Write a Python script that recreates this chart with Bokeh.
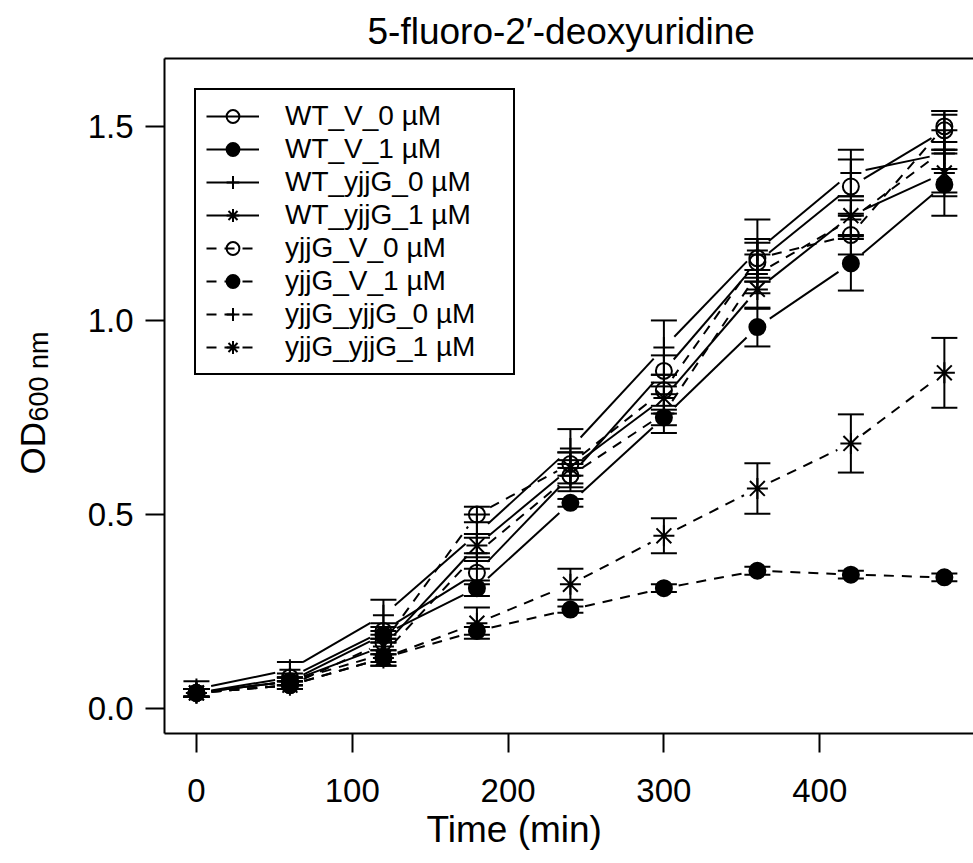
import math
from bokeh.plotting import figure
from bokeh.layouts import row
from bokeh.core.properties import value
from bokeh.models import (ColumnDataSource, Whisker, TeeHead, Legend, LegendItem,
                          FixedTicker, PrintfTickFormatter, LinearAxis, Range1d, Title)
from bokeh.embed import file_html
from bokeh.resources import INLINE

# ---------------- data ----------------
times = [0, 60, 120, 180, 240, 300, 360, 420, 480]

series_names = ["WT_V_0 µM", "WT_V_1 µM", "WT_yjjG_0 µM", "WT_yjjG_1 µM",
                "yjjG_V_0 µM", "yjjG_V_1 µM", "yjjG_yjjG_0 µM", "yjjG_yjjG_1 µM"]

wt_v_0 = [0.040, 0.080, 0.200, 0.350, 0.600, 0.870, 1.150, 1.345, 1.490]
wt_v_1 = [0.040, 0.070, 0.190, 0.310, 0.530, 0.750, 0.983, 1.147, 1.350]
wt_yjjg_0 = [0.050, 0.100, 0.240, 0.450, 0.670, 0.930, 1.180, 1.380, 1.430]
wt_yjjg_1 = [0.040, 0.070, 0.160, 0.420, 0.620, 0.800, 1.080, 1.270, 1.380]
yjjg_v_0 = [0.040, 0.060, 0.170, 0.500, 0.630, 0.820, 1.160, 1.220, 1.500]
yjjg_v_1 = [0.040, 0.060, 0.130, 0.200, 0.255, 0.310, 0.355, 0.345, 0.338]
yjjg_yjjg_0 = [0.040, 0.070, 0.140, 0.400, 0.600, 0.760, 1.120, 1.260, 1.440]
yjjg_yjjg_1 = [0.040, 0.060, 0.130, 0.220, 0.320, 0.445, 0.567, 0.683, 0.865]

wt_v_0_err = [0.010, 0.010, 0.020, 0.030, 0.030, 0.040, 0.050, 0.070, 0.050]
wt_v_1_err = [0.010, 0.010, 0.020, 0.020, 0.010, 0.020, 0.050, 0.070, 0.080]
wt_yjjg_0_err = [0.020, 0.020, 0.040, 0.050, 0.050, 0.070, 0.080, 0.060, 0.100]
wt_yjjg_1_err = [0.010, 0.010, 0.020, 0.030, 0.040, 0.040, 0.050, 0.050, 0.060]
yjjg_v_0_err = [0.010, 0.010, 0.020, 0.020, 0.030, 0.040, 0.050, 0.050, 0.040]
yjjg_v_1_err = [0.010, 0.010, 0.010, 0.010, 0.008, 0.010, 0.010, 0.010, 0.010]
yjjg_yjjg_0_err = [0.010, 0.010, 0.030, 0.040, 0.040, 0.050, 0.050, 0.050, 0.050]
yjjg_yjjg_1_err = [0.010, 0.010, 0.020, 0.040, 0.040, 0.045, 0.065, 0.075, 0.090]

x_ticks = [0, 100, 200, 300, 400]
y_ticks = [0.0, 0.5, 1.0, 1.5]

title_text = "5-fluoro-2′-deoxyuridine"
x_label = "Time (min)"
y_label_main = "OD"
y_label_sub = "600 nm"

# ---------------- styles ----------------
values = [wt_v_0, wt_v_1, wt_yjjg_0, wt_yjjg_1, yjjg_v_0, yjjg_v_1, yjjg_yjjg_0, yjjg_yjjg_1]
errors = [wt_v_0_err, wt_v_1_err, wt_yjjg_0_err, wt_yjjg_1_err,
          yjjg_v_0_err, yjjg_v_1_err, yjjg_yjjg_0_err, yjjg_yjjg_1_err]
markers = ["circle", "circle", "cross", "asterisk", "circle", "circle", "cross", "asterisk"]
filled = [False, True, False, False, False, True, False, False]
dashes = ["solid"] * 4 + ["10 8"] * 4

FONT = "Liberation Sans"
W, H = 973, 863
YLAB_W = 70
LEFT, RIGHT, TOP, BOTTOM = 164, 0, 58, 130
X0, X1 = -20.5, 498.7
Y0, Y1 = -0.0644, 1.675

# ---------- left strip holding the rotated y label ----------
ylab = figure(width=YLAB_W, height=H, output_backend="svg", toolbar_location=None,
              x_range=Range1d(0, YLAB_W), y_range=Range1d(BOTTOM, H - TOP),
              x_axis_type=None, y_axis_type=None,
              min_border_left=0, min_border_right=0, min_border_top=TOP,
              min_border_bottom=BOTTOM)
ylab.grid.visible = False
ylab.outline_line_color = None
ylab.text(x=[32], y=[H - 474], text=[y_label_main], angle=math.pi / 2,
          text_align="left", text_baseline="alphabetic",
          text_font=value(FONT), text_font_size="35px", text_color="black")
ylab.text(x=[38], y=[H - 421], text=[y_label_sub], angle=math.pi / 2,
          text_align="left", text_baseline="alphabetic",
          text_font=value(FONT), text_font_size="27px", text_color="black")

# ---------- main plot ----------
p = figure(width=W - YLAB_W, height=H, output_backend="svg", toolbar_location=None,
           x_range=Range1d(X0, X1), y_range=Range1d(Y0, Y1),
           min_border_left=LEFT - YLAB_W, min_border_right=RIGHT,
           min_border_top=TOP, min_border_bottom=BOTTOM)
p.grid.visible = False
p.outline_line_color = None
p.background_fill_color = "white"
p.border_fill_color = "white"

frame_w = W - LEFT - RIGHT
frame_h = H - TOP - BOTTOM
sx = frame_w / (X1 - X0)
sy = frame_h / (Y1 - Y0)
GAP = 15.0  # px gap between line segments and points (R type="b")

legend_items = []
for name, v, e, mk, fl, dash in zip(series_names, values, errors, markers, filled, dashes):
    x0s, y0s, x1s, y1s = [], [], [], []
    for i in range(len(times) - 1):
        ta, tb, va, vb = times[i], times[i + 1], v[i], v[i + 1]
        dxp, dyp = (tb - ta) * sx, (vb - va) * sy
        L = math.hypot(dxp, dyp)
        if L <= 2 * GAP:
            continue
        f = GAP / L
        x0s.append(ta + f * (tb - ta)); y0s.append(va + f * (vb - va))
        x1s.append(tb - f * (tb - ta)); y1s.append(vb - f * (vb - va))
    seg = p.segment(x0=x0s, y0=y0s, x1=x1s, y1=y1s, line_color="black",
                    line_width=2, line_dash=dash)
    src = ColumnDataSource(dict(t=times, v=v,
                                lo=[a - b for a, b in zip(v, e)],
                                hi=[a + b for a, b in zip(v, e)]))
    wh = Whisker(source=src, base="t", lower="lo", upper="hi", dimension="height",
                 line_color="black", line_width=2,
                 lower_head=TeeHead(size=26, line_width=2, line_color="black"),
                 upper_head=TeeHead(size=26, line_width=2, line_color="black"))
    p.add_layout(wh)
    if mk == "circle":
        sc = p.scatter("t", "v", source=src, marker="circle", size=16,
                       line_color="black", line_width=2,
                       fill_color="black" if fl else "white",
                       fill_alpha=1.0 if fl else 0.0)
    else:
        sc = p.scatter("t", "v", source=src, marker=mk, size=21,
                       line_color="black", line_width=2)
    legend_items.append(LegendItem(label=name, renderers=[seg, sc]))

legend = Legend(items=legend_items, location="top_left", margin=30,
                padding=10, spacing=1, glyph_width=53, glyph_height=32,
                label_height=20, label_width=218, label_standoff=26,
                label_text_font=FONT, label_text_font_size="28px",
                label_text_color="black",
                border_line_color="black", border_line_width=2, border_line_alpha=1.0,
                background_fill_color="white", background_fill_alpha=1.0)
p.add_layout(legend, "center")

# axes
for ax in p.xaxis + p.yaxis:
    ax.axis_line_width = 2
    ax.axis_line_color = "black"
    ax.major_tick_line_width = 2
    ax.major_tick_line_color = "black"
    ax.major_tick_out = 19
    ax.major_tick_in = 0
    ax.minor_tick_line_color = None
    ax.major_label_text_font = FONT
    ax.major_label_text_font_size = "33px"
    ax.major_label_text_color = "black"

p.xaxis.ticker = FixedTicker(ticks=x_ticks)
p.xaxis.major_label_standoff = 26
p.yaxis.ticker = FixedTicker(ticks=y_ticks)
p.yaxis.formatter = PrintfTickFormatter(format="%.1f")
p.yaxis.major_label_standoff = 12
p.yaxis.major_label_orientation = "horizontal"

top_axis = LinearAxis(ticker=FixedTicker(ticks=[]), axis_line_width=2,
                      axis_line_color="black", major_tick_line_color=None,
                      minor_tick_line_color=None, major_label_text_font_size="0px")
p.add_layout(top_axis, "above")

# title and x label
p.title.text = title_text
p.title.text_font = FONT
p.title.text_font_size = "37px"
p.title.text_font_style = "normal"
p.title.text_color = "black"
p.title.align = "left"
p.title.offset = 367 - LEFT
p.title.standoff = 14

p.add_layout(Title(text=x_label, align="left", offset=426 - LEFT,
                   text_font=FONT, text_font_size="37px", text_font_style="normal",
                   text_color="black", standoff=4), "below")

layout = row(ylab, p, spacing=0)
open("out.html", "w").write(file_html(layout, INLINE))
